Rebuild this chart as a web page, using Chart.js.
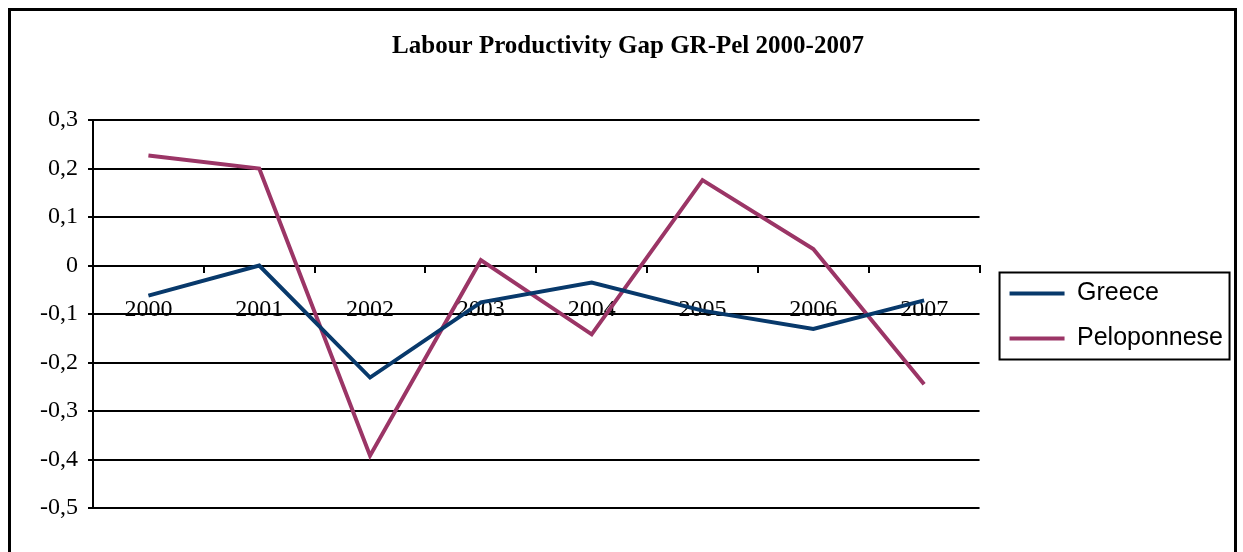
<!DOCTYPE html>
<html>
<head>
<meta charset="utf-8">
<title>Labour Productivity Gap GR-Pel 2000-2007</title>
<script src="https://cdn.jsdelivr.net/npm/chart.js@4.4.1/dist/chart.umd.min.js"></script>
<style>
  body { margin: 0; background: #fff; overflow: hidden; }
  #chart { position: absolute; left: 0; top: 0; }
  #frame {
    position: absolute; left: 8px; top: 8px;
    width: 1229px; height: 600px;
    border: 3px solid #000; box-sizing: border-box;
  }
</style>
</head>
<body>
<canvas id="chart" width="1243" height="552"></canvas>
<div id="frame"></div>
<script>
// Labour productivity gap, Greece vs Peloponnese
const years = ['2000', '2001', '2002', '2003', '2004', '2005', '2006', '2007'];
const greece = [-0.062, 0.0, -0.231, -0.076, -0.035, -0.093, -0.131, -0.072];
const peloponnese = [0.227, 0.2, -0.392, 0.011, -0.142, 0.176, 0.034, -0.245];
const yTicks = [0.3, 0.2, 0.1, 0, -0.1, -0.2, -0.3, -0.4, -0.5];

const serif = 'Liberation Serif';
const sans = 'Liberation Sans';

// decimal comma labels, plain "0" at zero
function fmt(v) {
    if (Math.abs(v) < 1e-9) return '0';
    return v.toFixed(1).replace('.', ',');
}

// nudges the legend and draws the box around it
const legendBox = {
    id: 'legendBox',
    afterLayout(chart) {
        const lg = chart.legend;
        lg.left += 10;
        lg.right += 10;
        lg.top += 2;
        lg.bottom += 2;
    },
    afterDraw(chart) {
        const a = chart.chartArea;
        const ctx = chart.ctx;
        const cy = (a.top + a.bottom) / 2 + 2;
        ctx.save();
        ctx.strokeStyle = '#000';
        ctx.lineWidth = 2;
        ctx.strokeRect(a.right + 20, cy - 43.5, 230, 87);
        ctx.restore();
    }
};

const ctx = document.getElementById('chart').getContext('2d');
const myChart = new Chart(ctx, {
    type: 'line',
    data: {
        labels: years,
        datasets: [
            {
                label: 'Greece',
                data: greece,
                borderColor: '#08396b',
                backgroundColor: '#08396b',
                borderWidth: 4,
                pointRadius: 0,
                tension: 0
            },
            {
                label: 'Peloponnese',
                data: peloponnese,
                borderColor: '#9b3566',
                backgroundColor: '#9b3566',
                borderWidth: 4,
                pointRadius: 0,
                tension: 0
            }
        ]
    },
    options: {
        responsive: false,
        animation: false,
        layout: { padding: { left: 33, right: 20, top: 21, bottom: 44 } },
        plugins: {
            title: {
                display: true,
                text: 'Labour Productivity Gap GR-Pel 2000-2007',
                color: '#000',
                font: { family: serif, size: 25, weight: 'bold', lineHeight: 1.2 },
                padding: { top: 11, bottom: 58 }
            },
            legend: {
                position: 'right',
                fullSize: false,
                labels: {
                    color: '#000',
                    font: { family: sans, size: 25 },
                    boxWidth: 55,
                    boxHeight: 0,
                    padding: 20
                }
            },
            tooltip: { enabled: false }
        },
        scales: {
            x: {
                position: { y: 0 },
                offset: true,
                grid: {
                    drawOnChartArea: false,
                    drawTicks: true,
                    tickLength: 6,
                    offset: true,
                    color: '#000',
                    lineWidth: 2
                },
                border: { display: true, color: '#000', width: 2 },
                ticks: {
                    color: '#000',
                    font: { family: serif, size: 24 },
                    padding: 24,
                    maxRotation: 0,
                    autoSkip: false
                }
            },
            y: {
                min: yTicks[yTicks.length - 1],
                max: yTicks[0],
                afterBuildTicks(scale) {
                    scale.ticks = yTicks.map(v => ({ value: v }));
                },
                afterFit(scale) {
                    scale.width = 60;
                },
                grid: { color: '#000', lineWidth: 2, tickLength: 5 },
                border: { display: true, color: '#000', width: 2 },
                ticks: {
                    color: '#000',
                    font: { family: serif, size: 24 },
                    padding: 10,
                    callback: v => fmt(v)
                }
            }
        }
    },
    plugins: [legendBox]
});
</script>
</body>
</html>
